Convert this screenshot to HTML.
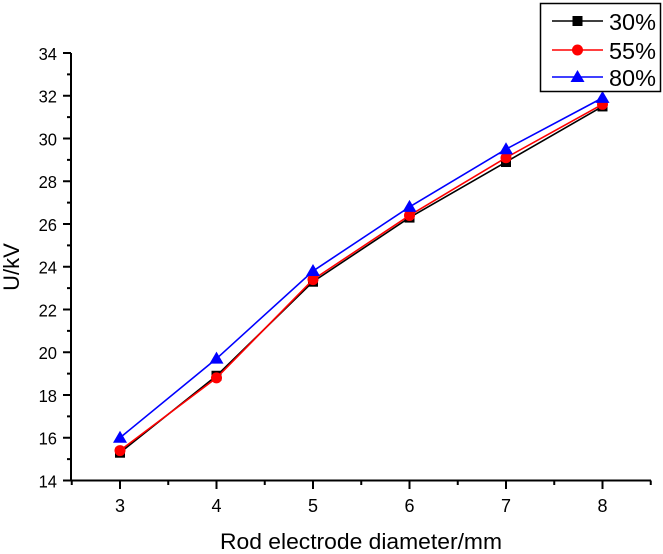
<!DOCTYPE html>
<html><head><meta charset="utf-8"><style>
body{margin:0;background:#fff;}
svg{display:block;font-family:"Liberation Sans",Arial,sans-serif;}
</style></head><body>
<svg id="c" width="663" height="554"></svg>
<script>
const categories=[3,4,5,6,7,8];
const s30=[15.3,18.9,23.3,26.3,28.9,31.5];
const s55=[15.4,18.8,23.4,26.4,29.1,31.6];
const s80=[16.0,19.7,23.8,26.8,29.5,31.9];
const yTicks=[14,16,18,20,22,24,26,28,30,32,34];
const seriesNames=["30%","55%","80%"];
const NS="http://www.w3.org/2000/svg";
const svg=document.getElementById('c');
const X=v=>120+(v-3)*(602.5-120)/5;
const Y=v=>480.5-(v-14)*(480.5-53)/20;
function el(t,a,p){const e=document.createElementNS(NS,t);for(const k in a)e.setAttribute(k,a[k]);(p||svg).appendChild(e);return e;}
const ax=el('g',{});


el('line',{x1:71,y1:53,x2:71,y2:481.5,stroke:'#000','stroke-width':2},ax);
el('line',{x1:70,y1:480.5,x2:651,y2:480.5,stroke:'#000','stroke-width':2},ax);
yTicks.forEach((t,i)=>{
  el('line',{x1:63,y1:Y(t),x2:71,y2:Y(t),stroke:'#000','stroke-width':2},ax);
  if(i<yTicks.length-1) el('line',{x1:67,y1:Y(t+1),x2:71,y2:Y(t+1),stroke:'#000','stroke-width':2},ax);
  const tx=el('text',{x:57,y:Y(t)+7,'text-anchor':'end','font-size':18,transform:`translate(57,0) scale(0.92,1) translate(-57,0)`},ax);tx.textContent=t;
  
  
});
for(let v=2.5;v<=8.5;v+=0.5){
  const major=Number.isInteger(v)&&v>=3;
  el('line',{x1:X(v),y1:480.5,x2:X(v),y2:major?489:485,stroke:'#000','stroke-width':2},ax);
}
categories.forEach(c=>{
  const tx=el('text',{x:X(c),y:512,'text-anchor':'middle','font-size':18},ax);tx.textContent=c;
  
  
});
const xt=el('text',{x:361,y:549,'text-anchor':'middle','font-size':22,textLength:282,lengthAdjust:'spacingAndGlyphs'});xt.textContent='Rod electrode diameter/mm';


const yt=el('text',{x:0,y:0,'text-anchor':'middle','font-size':22,transform:'translate(19,267) rotate(-90)'});yt.textContent='U/kV';


function marker(g,type,x,y,col){
  if(type==0) el('rect',{x:x-5,y:y-5,width:10,height:10,fill:col},g);
  else if(type==1) el('circle',{cx:x,cy:y,r:5.5,fill:col},g);
  else el('polygon',{points:`${x},${y-7} ${x+7},${y+5} ${x-7},${y+5}`,fill:col},g);
}
const series=[s30,s55,s80],colors=['#000','#f00','#00f'];
series.forEach((s,i)=>{
  const g=el('g',{});
  
  
  el('polyline',{points:s.map((v,j)=>X(categories[j])+','+Y(v)).join(' '),fill:'none',stroke:colors[i],'stroke-width':1.6},g);
  s.forEach((v,j)=>marker(g,i,X(categories[j]),Y(v),colors[i]));
});
const lg=el('g',{});


el('rect',{x:540.5,y:3.5,width:120,height:88,fill:'#fff',stroke:'#000','stroke-width':1.5},lg);
const rows=[21,50,77];
seriesNames.forEach((n,i)=>{
  const e=el('g',{},lg);
  
  
  el('line',{x1:552,y1:rows[i],x2:603,y2:rows[i],stroke:colors[i],'stroke-width':1.6},e);
  marker(e,i,577.5,rows[i],colors[i]);
  const t=el('text',{x:609,y:rows[i]+9,'font-size':23,textLength:47,lengthAdjust:'spacingAndGlyphs'},e);t.textContent=n;
});
</script>
</body></html>
